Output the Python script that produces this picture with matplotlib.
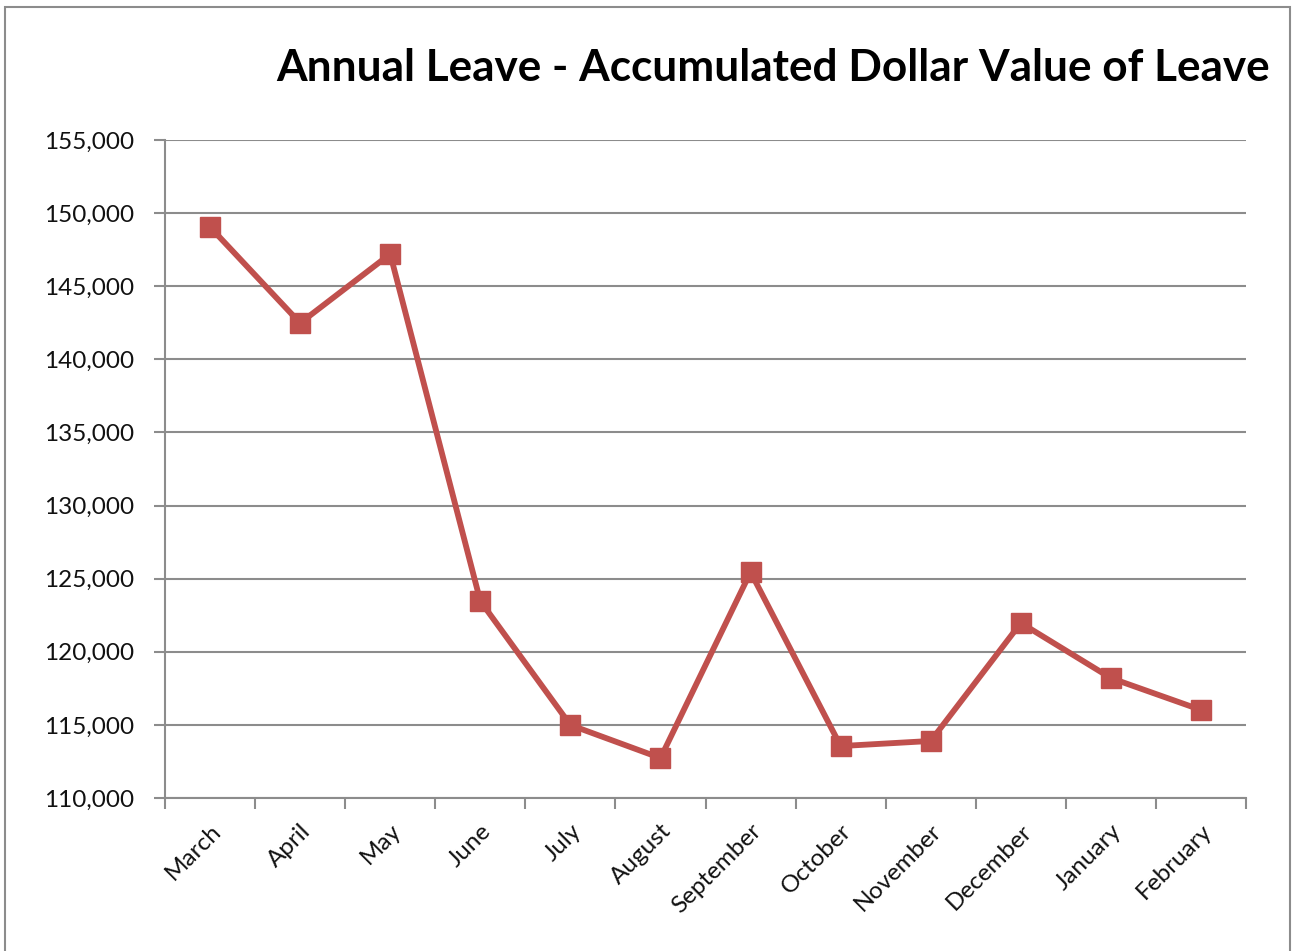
import numpy as np
import matplotlib.pyplot as plt
from matplotlib.patches import Rectangle
from matplotlib.ticker import FuncFormatter, MultipleLocator

plt.rcParams['font.family'] = ['Lato', 'DejaVu Sans']

months = ['March', 'April', 'May', 'June', 'July', 'August', 'September',
          'October', 'November', 'December', 'January', 'February']
leave_value = [149050, 142480, 147200, 123470, 114990, 112730, 125450,
               113550, 113900, 121970, 118200, 116020]

fig = plt.figure(figsize=(12.93, 9.51), dpi=100)
ax = fig.add_axes([0.1276, 0.1609, 0.8361, 0.6919])

x = np.arange(len(months))
ax.plot(x, leave_value, color='#C0504D', linewidth=4.2, marker='s',
        markersize=14, zorder=3)

ax.set_xlim(-0.5, len(months) - 0.5)
ax.set_ylim(110000, 155000)
ax.yaxis.set_major_locator(MultipleLocator(5000))
ax.yaxis.set_major_formatter(FuncFormatter(lambda v, p: '{:,.0f}'.format(v)))
ax.grid(axis='y', color='#8c8c8c', linewidth=1.5)
ax.set_axisbelow(True)

ax.set_xticks(x)
ax.set_xticklabels(months, rotation=45, ha='right', rotation_mode='anchor')
ax.set_xticks(np.arange(-0.5, len(months)), minor=True)
ax.tick_params(axis='x', which='major', length=0, pad=16, labelsize=17.5,
               labelcolor='#111111')
ax.tick_params(axis='x', which='minor', length=8, width=1.5, color='#8c8c8c')
ax.tick_params(axis='y', length=8, width=1.5, color='#8c8c8c', labelsize=17.5,
               labelcolor='#111111', pad=14)

for s in ['top', 'right']:
    ax.spines[s].set_visible(False)
for s in ['left', 'bottom']:
    ax.spines[s].set_color('#8c8c8c')
    ax.spines[s].set_linewidth(1.5)

fig.text(1270 / 1293, 1 - 68 / 951, 'Annual Leave - Accumulated Dollar Value of Leave',
         ha='right', va='center', fontsize=31.8, fontweight='bold')

fig.patches.append(Rectangle((5 / 1293, -0.01), 1285 / 1293, 1 - 7 / 951 + 0.01,
                             transform=fig.transFigure, fill=False,
                             edgecolor='#8c8c8c', linewidth=1.5))

fig.savefig('out.png', dpi=100)
